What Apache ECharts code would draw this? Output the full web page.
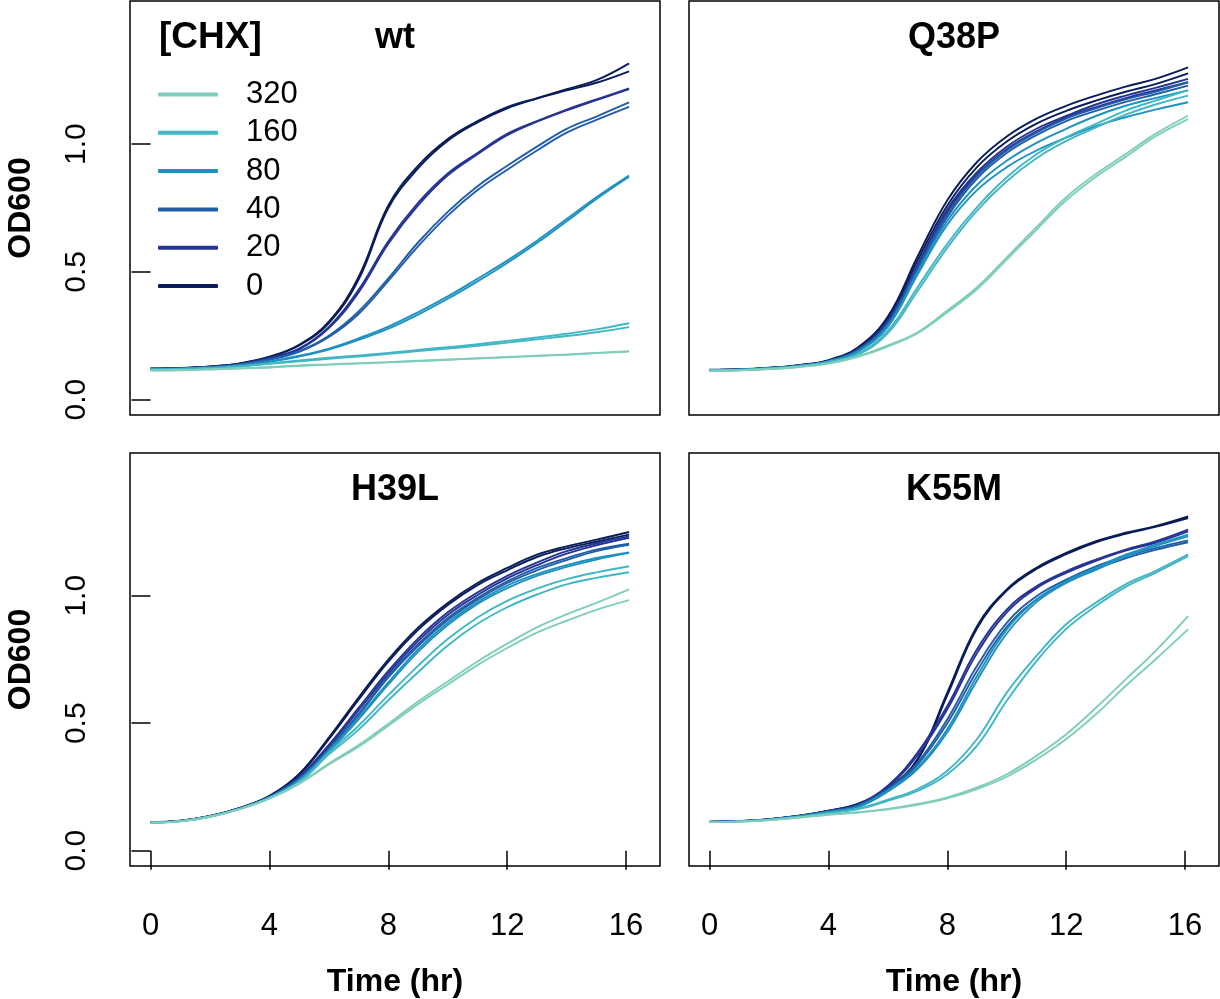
<!DOCTYPE html>
<html>
<head>
<meta charset="utf-8">
<script src="https://cdn.jsdelivr.net/npm/echarts@6.0.0/dist/echarts.min.js"></script>
<style>
  html, body { margin: 0; padding: 0; background: #fff; }
  #chart { width: 1220px; height: 999px; }
</style>
</head>
<body>
<div id="chart"></div>
<script>
// time points (hr)
const hours = [0, 1, 2, 3, 4, 5, 6, 7, 8, 9, 10, 11, 12, 13, 14, 15, 16.1]
const concs = ['320', '160', '80', '40', '20', '0']
const colors = ['#7fcdbb', '#41b6c4', '#1d91c0', '#225ea8', '#253494', '#081d58']
const panelNames = ['wt', 'Q38P', 'H39L', 'K55M']
const xTicks = [0, 4, 8, 12, 16]
const yTicks = [0, 0.5, 1]

// OD600, two replicates per [CHX]
const wt0 = [
  [0.122, 0.124, 0.13, 0.142, 0.168, 0.215, 0.305, 0.48, 0.76, 0.915, 1.02, 1.09, 1.145, 1.18, 1.215, 1.25, 1.316],
  [0.121, 0.123, 0.129, 0.141, 0.166, 0.212, 0.3, 0.47, 0.75, 0.905, 1.013, 1.085, 1.14, 1.178, 1.21, 1.24, 1.285]
]
const wt20 = [
  [0.121, 0.123, 0.129, 0.14, 0.163, 0.2, 0.285, 0.43, 0.62, 0.77, 0.885, 0.965, 1.04, 1.09, 1.135, 1.175, 1.218],
  [0.12, 0.122, 0.128, 0.139, 0.161, 0.197, 0.28, 0.42, 0.61, 0.76, 0.878, 0.96, 1.035, 1.088, 1.132, 1.172, 1.215]
]
const wt40 = [
  [0.12, 0.122, 0.127, 0.137, 0.158, 0.19, 0.25, 0.345, 0.475, 0.615, 0.735, 0.835, 0.915, 0.99, 1.06, 1.108, 1.163],
  [0.12, 0.122, 0.127, 0.136, 0.156, 0.187, 0.245, 0.335, 0.465, 0.6, 0.72, 0.82, 0.9, 0.975, 1.045, 1.095, 1.146]
]
const wt80 = [
  [0.12, 0.121, 0.126, 0.135, 0.15, 0.172, 0.2, 0.24, 0.286, 0.342, 0.404, 0.473, 0.544, 0.622, 0.707, 0.792, 0.877],
  [0.119, 0.12, 0.125, 0.134, 0.148, 0.169, 0.196, 0.234, 0.278, 0.333, 0.395, 0.463, 0.535, 0.613, 0.698, 0.785, 0.872]
]
const wt160 = [
  [0.118, 0.12, 0.124, 0.131, 0.142, 0.153, 0.164, 0.173, 0.183, 0.195, 0.205, 0.217, 0.23, 0.243, 0.258, 0.275, 0.299],
  [0.117, 0.119, 0.123, 0.13, 0.14, 0.15, 0.16, 0.169, 0.179, 0.19, 0.2, 0.211, 0.223, 0.236, 0.249, 0.264, 0.284]
]
const wt320 = [
  [0.115, 0.116, 0.119, 0.123, 0.127, 0.134, 0.138, 0.143, 0.147, 0.152, 0.157, 0.162, 0.167, 0.172, 0.177, 0.183, 0.19],
  [0.114, 0.115, 0.118, 0.122, 0.126, 0.132, 0.137, 0.141, 0.146, 0.151, 0.156, 0.161, 0.166, 0.171, 0.176, 0.182, 0.188]
]

const q38p0 = [
  [0.117, 0.119, 0.125, 0.135, 0.155, 0.205, 0.325, 0.56, 0.78, 0.93, 1.03, 1.1, 1.15, 1.19, 1.225, 1.255, 1.3],
  [0.116, 0.118, 0.124, 0.134, 0.153, 0.2, 0.315, 0.545, 0.76, 0.91, 1.01, 1.08, 1.13, 1.17, 1.205, 1.235, 1.277]
]
const q38p20 = [
  [0.116, 0.118, 0.124, 0.134, 0.152, 0.198, 0.31, 0.53, 0.745, 0.89, 0.99, 1.06, 1.11, 1.155, 1.19, 1.22, 1.255],
  [0.116, 0.118, 0.124, 0.133, 0.151, 0.196, 0.305, 0.52, 0.735, 0.88, 0.98, 1.05, 1.105, 1.145, 1.18, 1.21, 1.242]
]
const q38p40 = [
  [0.116, 0.118, 0.123, 0.133, 0.151, 0.195, 0.3, 0.515, 0.725, 0.875, 0.975, 1.045, 1.1, 1.14, 1.175, 1.205, 1.242],
  [0.115, 0.117, 0.123, 0.132, 0.15, 0.193, 0.295, 0.505, 0.715, 0.865, 0.965, 1.035, 1.09, 1.13, 1.165, 1.195, 1.229]
]
const q38p80 = [
  [0.115, 0.117, 0.123, 0.132, 0.15, 0.19, 0.29, 0.5, 0.7, 0.84, 0.935, 1.005, 1.06, 1.11, 1.15, 1.18, 1.21],
  [0.115, 0.117, 0.122, 0.131, 0.149, 0.188, 0.285, 0.49, 0.685, 0.82, 0.91, 0.975, 1.025, 1.07, 1.105, 1.135, 1.164]
]
const q38p160 = [
  [0.114, 0.116, 0.122, 0.131, 0.148, 0.18, 0.27, 0.44, 0.61, 0.753, 0.87, 0.96, 1.026, 1.079, 1.131, 1.17, 1.211],
  [0.114, 0.116, 0.121, 0.13, 0.146, 0.176, 0.26, 0.425, 0.595, 0.74, 0.855, 0.945, 1.012, 1.065, 1.115, 1.155, 1.19]
]
const q38p320 = [
  [0.113, 0.115, 0.12, 0.128, 0.142, 0.17, 0.212, 0.264, 0.349, 0.44, 0.557, 0.675, 0.792, 0.883, 0.961, 1.04, 1.111],
  [0.113, 0.115, 0.12, 0.128, 0.141, 0.168, 0.208, 0.26, 0.342, 0.432, 0.548, 0.665, 0.78, 0.872, 0.95, 1.03, 1.098]
]

const h39l0 = [
  [0.113, 0.118, 0.136, 0.168, 0.215, 0.301, 0.444, 0.601, 0.75, 0.875, 0.972, 1.05, 1.109, 1.161, 1.194, 1.22, 1.25],
  [0.112, 0.117, 0.135, 0.167, 0.213, 0.297, 0.438, 0.592, 0.742, 0.866, 0.964, 1.042, 1.1, 1.152, 1.186, 1.212, 1.24]
]
const h39l20 = [
  [0.112, 0.117, 0.135, 0.167, 0.212, 0.29, 0.415, 0.56, 0.705, 0.832, 0.935, 1.013, 1.078, 1.13, 1.175, 1.205, 1.233],
  [0.111, 0.117, 0.135, 0.166, 0.211, 0.287, 0.408, 0.55, 0.695, 0.822, 0.925, 1.003, 1.068, 1.12, 1.165, 1.198, 1.227]
]
const h39l40 = [
  [0.111, 0.117, 0.135, 0.166, 0.21, 0.283, 0.4, 0.537, 0.687, 0.81, 0.913, 0.992, 1.057, 1.109, 1.148, 1.181, 1.204],
  [0.111, 0.116, 0.134, 0.165, 0.209, 0.281, 0.396, 0.532, 0.68, 0.803, 0.905, 0.985, 1.05, 1.1, 1.14, 1.175, 1.2]
]
const h39l80 = [
  [0.111, 0.116, 0.134, 0.165, 0.209, 0.277, 0.392, 0.523, 0.66, 0.79, 0.894, 0.975, 1.04, 1.085, 1.12, 1.148, 1.17],
  [0.111, 0.116, 0.134, 0.165, 0.208, 0.275, 0.388, 0.515, 0.652, 0.78, 0.885, 0.968, 1.03, 1.078, 1.113, 1.142, 1.168]
]
const h39l160 = [
  [0.111, 0.116, 0.134, 0.164, 0.207, 0.27, 0.385, 0.49, 0.61, 0.725, 0.83, 0.915, 0.98, 1.028, 1.065, 1.092, 1.116],
  [0.11, 0.116, 0.133, 0.164, 0.206, 0.267, 0.378, 0.475, 0.59, 0.7, 0.805, 0.89, 0.955, 1.005, 1.045, 1.07, 1.092]
]
const h39l320 = [
  [0.11, 0.115, 0.133, 0.163, 0.205, 0.265, 0.342, 0.414, 0.498, 0.585, 0.664, 0.742, 0.812, 0.876, 0.927, 0.972, 1.025],
  [0.11, 0.115, 0.133, 0.163, 0.204, 0.262, 0.338, 0.408, 0.49, 0.575, 0.652, 0.728, 0.795, 0.855, 0.902, 0.945, 0.983]
]

const k55m0 = [
  [0.114, 0.117, 0.124, 0.137, 0.157, 0.185, 0.245, 0.36, 0.62, 0.881, 1.025, 1.11, 1.168, 1.214, 1.247, 1.273, 1.311],
  [0.113, 0.116, 0.123, 0.136, 0.156, 0.183, 0.242, 0.355, 0.61, 0.872, 1.02, 1.105, 1.163, 1.21, 1.243, 1.27, 1.305]
]
const k55m20 = [
  [0.114, 0.116, 0.123, 0.136, 0.156, 0.182, 0.255, 0.385, 0.568, 0.79, 0.946, 1.037, 1.096, 1.142, 1.181, 1.213, 1.259],
  [0.113, 0.116, 0.123, 0.135, 0.155, 0.18, 0.25, 0.375, 0.555, 0.775, 0.935, 1.03, 1.09, 1.137, 1.177, 1.208, 1.253]
]
const k55m40 = [
  [0.113, 0.116, 0.123, 0.135, 0.154, 0.178, 0.242, 0.346, 0.516, 0.725, 0.894, 0.998, 1.063, 1.115, 1.155, 1.187, 1.217],
  [0.113, 0.116, 0.122, 0.135, 0.153, 0.176, 0.238, 0.338, 0.5, 0.705, 0.878, 0.985, 1.052, 1.105, 1.147, 1.18, 1.21]
]
const k55m80 = [
  [0.113, 0.116, 0.122, 0.134, 0.152, 0.173, 0.236, 0.327, 0.477, 0.685, 0.868, 0.985, 1.057, 1.109, 1.161, 1.2, 1.24],
  [0.113, 0.115, 0.122, 0.134, 0.151, 0.171, 0.232, 0.32, 0.465, 0.668, 0.852, 0.975, 1.05, 1.102, 1.154, 1.195, 1.233]
]
const k55m160 = [
  [0.113, 0.115, 0.121, 0.132, 0.148, 0.165, 0.2, 0.242, 0.314, 0.438, 0.62, 0.764, 0.888, 0.973, 1.045, 1.097, 1.162],
  [0.112, 0.115, 0.121, 0.132, 0.147, 0.163, 0.196, 0.235, 0.3, 0.412, 0.588, 0.744, 0.87, 0.96, 1.035, 1.09, 1.155]
]
const k55m320 = [
  [0.112, 0.114, 0.12, 0.13, 0.142, 0.151, 0.164, 0.183, 0.209, 0.248, 0.3, 0.372, 0.457, 0.561, 0.672, 0.783, 0.92],
  [0.112, 0.114, 0.12, 0.13, 0.141, 0.15, 0.162, 0.18, 0.205, 0.242, 0.29, 0.358, 0.438, 0.535, 0.646, 0.75, 0.868]
]

// per panel, in the order of concs
const panelData = [
  [wt320, wt160, wt80, wt40, wt20, wt0],
  [q38p320, q38p160, q38p80, q38p40, q38p20, q38p0],
  [h39l320, h39l160, h39l80, h39l40, h39l20, h39l0],
  [k55m320, k55m160, k55m80, k55m40, k55m20, k55m0]
]

const FONT = 'Liberation Sans, Arial, Helvetica, sans-serif'
const boxes = [
  { left: 130, top: 1, width: 530, height: 414 },
  { left: 689, top: 1, width: 530, height: 414 },
  { left: 130, top: 453, width: 530, height: 415 },
  { left: 689, top: 453, width: 530, height: 415 }
]
const titleCenters = [[395, 38], [954, 38], [395, 490], [954, 490]]

const grid = boxes.map((b) => ({
  ...b,
  show: true,
  borderColor: '#000',
  borderWidth: 1.5,
  backgroundColor: 'transparent'
}))

const xAxis = boxes.map((b, i) => {
  const bottom = i >= 2
  return {
    gridIndex: i,
    type: 'value',
    min: -0.69,
    max: 17.14,
    axisLine: { show: false },
    splitLine: { show: false },
    axisTick: {
      show: bottom,
      length: 19,
      customValues: xTicks,
      lineStyle: { color: '#000', width: 1.5 }
    },
    axisLabel: {
      show: bottom,
      customValues: xTicks,
      margin: 45,
      fontSize: 31,
      color: '#000',
      fontFamily: FONT
    },
    name: bottom ? 'Time (hr)' : '',
    nameLocation: 'middle',
    nameGap: 100,
    nameTextStyle: { fontSize: 32, fontWeight: 'bold', color: '#000', fontFamily: FONT }
  }
})

const yAxis = boxes.map((b, i) => {
  const left = i % 2 === 0
  return {
    gridIndex: i,
    type: 'value',
    min: -0.06,
    max: 1.56,
    axisLine: { show: false },
    splitLine: { show: false },
    axisTick: {
      show: left,
      length: 19,
      customValues: yTicks,
      lineStyle: { color: '#000', width: 1.5 }
    },
    axisLabel: {
      show: left,
      customValues: yTicks,
      rotate: 90,
      margin: 38,
      fontSize: 30,
      color: '#000',
      fontFamily: FONT,
      formatter: (v) => v.toFixed(1)
    },
    name: left ? 'OD600' : '',
    nameLocation: 'middle',
    nameGap: 93,
    nameTextStyle: { fontSize: 32, fontWeight: 'bold', color: '#000', fontFamily: FONT }
  }
})

const series = []
panelData.forEach((groups, p) => {
  // darkest first so the pale curves sit on top
  for (let c = concs.length - 1; c >= 0; c--) {
    groups[c].forEach((rep) => {
      series.push({
        name: concs[c],
        type: 'line',
        xAxisIndex: p,
        yAxisIndex: p,
        color: colors[c],
        showSymbol: false,
        symbol: 'none',
        smooth: 0.4,
        silent: true,
        lineStyle: { width: 1.9, color: colors[c] },
        data: hours.map((h, k) => [h, rep[k]])
      })
    })
  }
})

const graphic = panelNames.map((name, i) => ({
  type: 'text',
  x: titleCenters[i][0],
  y: titleCenters[i][1],
  style: {
    text: name,
    align: 'center',
    verticalAlign: 'middle',
    fontSize: 36,
    fontWeight: 'bold',
    fontFamily: FONT,
    fill: '#000'
  }
}))
graphic.push({
  type: 'text',
  x: 159,
  y: 38,
  style: {
    text: '[CHX]',
    align: 'left',
    verticalAlign: 'middle',
    fontSize: 37,
    fontWeight: 'bold',
    fontFamily: FONT,
    fill: '#000'
  }
})

const chart = echarts.init(document.getElementById('chart'))
chart.setOption({
  animation: false,
  backgroundColor: '#fff',
  grid,
  xAxis,
  yAxis,
  legend: {
    data: concs,
    orient: 'vertical',
    left: 153,
    top: 74,
    itemWidth: 60,
    itemHeight: 4,
    itemGap: 7.3,
    icon: 'roundRect',
    selectedMode: false,
    textStyle: {
      fontSize: 31,
      lineHeight: 30,
      color: '#000',
      fontFamily: FONT,
      padding: [0, 0, 0, 23]
    }
  },
  graphic,
  series
})
</script>
</body>
</html>
